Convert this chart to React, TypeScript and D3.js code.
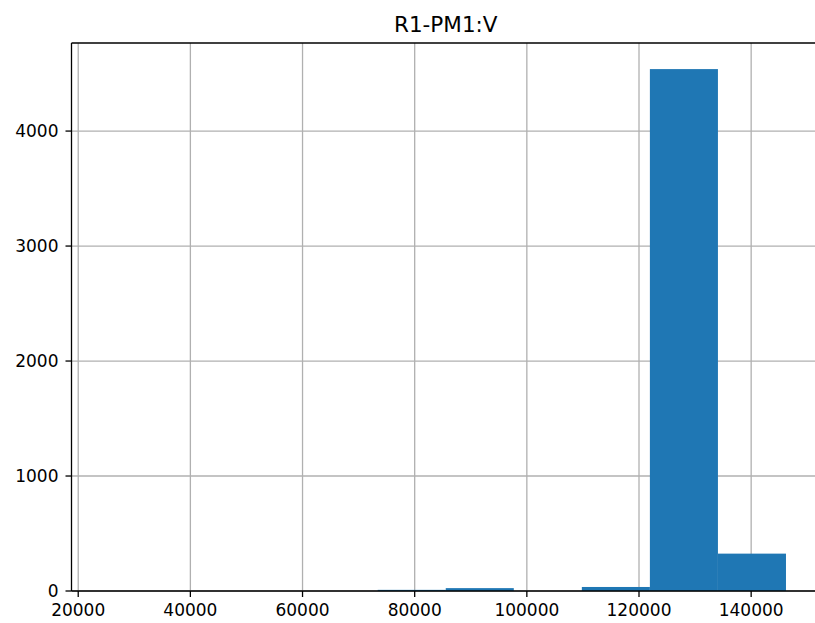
import React from "react";
import * as d3 from "d3";

const title = "R1-PM1:V";
const binEdges = [24869, 37003, 49137, 61271, 73405, 85539, 97673, 109807, 121941, 134075, 146209];
const counts = [0, 0, 0, 0, 10, 25, 0, 35, 4539, 325];
const xTicks = [20000, 40000, 60000, 80000, 100000, 120000, 140000];
const yTicks = [0, 1000, 2000, 3000, 4000];

const W = 815;
const H = 623;
const left = 71.5;
const right = 820;
const top = 43;
const bottom = 591;

export default function App() {
  const span = binEdges[binEdges.length - 1] - binEdges[0];
  const x = d3
    .scaleLinear()
    .domain([binEdges[0] - 0.05 * span, binEdges[binEdges.length - 1] + 0.05 * span])
    .range([left, right]);
  const y = d3
    .scaleLinear()
    .domain([0, (d3.max(counts) as number) * 1.05])
    .range([bottom, top]);
  const font = "DejaVu Sans, sans-serif";
  const tickLen = 6;
  return (
    <div style={{ position: "absolute", left: 0, top: 0 }}>
      <svg width={W} height={H} style={{ display: "block", background: "#fff" }}>
        <rect x={0} y={0} width={W} height={H} fill="#fff" />
        {xTicks.map((t) => (
          <line key={"gx" + t} x1={x(t)} x2={x(t)} y1={top} y2={bottom} stroke="#b0b0b0" strokeWidth={1.3} />
        ))}
        {yTicks.map((t) => (
          <line key={"gy" + t} x1={left} x2={right} y1={y(t)} y2={y(t)} stroke="#b0b0b0" strokeWidth={1.3} />
        ))}
        {counts.map((c, i) =>
          c > 0 ? (
            <rect
              key={"b" + i}
              x={x(binEdges[i])}
              width={x(binEdges[i + 1]) - x(binEdges[i])}
              y={y(c)}
              height={bottom - y(c)}
              fill="#1f77b4"
            />
          ) : null
        )}
        <line x1={left} x2={left} y1={top} y2={bottom} stroke="#000" strokeWidth={1.3} />
        <line x1={left} x2={right} y1={bottom} y2={bottom} stroke="#000" strokeWidth={1.3} />
        <line x1={left} x2={right} y1={top} y2={top} stroke="#000" strokeWidth={1.3} />
        <line x1={right} x2={right} y1={top} y2={bottom} stroke="#000" strokeWidth={1.3} />
        {xTicks.map((t) => (
          <g key={"tx" + t}>
            <line x1={x(t)} x2={x(t)} y1={bottom} y2={bottom + tickLen} stroke="#000" strokeWidth={1.3} />
            <text x={x(t)} y={bottom + 12} dy="0.76em" textAnchor="middle" fontFamily={font} fontSize={17} fill="#000">
              {t}
            </text>
          </g>
        ))}
        {yTicks.map((t) => (
          <g key={"ty" + t}>
            <line x1={left - tickLen} x2={left} y1={y(t)} y2={y(t)} stroke="#000" strokeWidth={1.3} />
            <text x={left - 13} y={y(t)} dy="0.36em" textAnchor="end" fontFamily={font} fontSize={17} fill="#000">
              {t}
            </text>
          </g>
        ))}
        <text x={(left + right) / 2} y={32} textAnchor="middle" fontFamily={font} fontSize={21.5} fill="#000">
          {title}
        </text>
      </svg>
    </div>
  );
}
